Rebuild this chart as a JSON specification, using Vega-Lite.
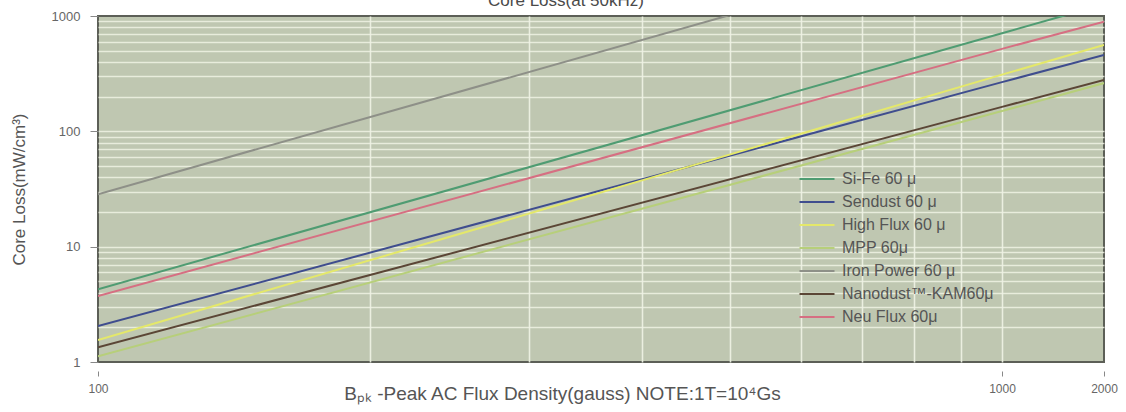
{
  "$schema": "https://vega.github.io/schema/vega-lite/v6.json",
  "autosize": {"type": "none"},
  "padding": {"left": 98, "top": 16, "right": 22, "bottom": 50},
  "width": 1006,
  "height": 346,
  "background": "white",
  "title": {"text": "Core Loss(at 50kHz)", "fontSize": 17, "font": "Liberation Sans", "fontWeight": "normal", "color": "#4a4a4a", "dx": -35, "dy": 19, "offset": 6, "frame": "group", "baseline": "alphabetic"},
  "config": {
    "view": {"fill": "#bfc7b1", "stroke": "#5c5f57", "strokeWidth": 2},
    "font": "Liberation Sans"
  },
  "data": {"values": [
    {"B": 100, "loss": 4.27, "material": "Si-Fe 60 μ"},
    {"B": 1000, "loss": 709, "material": "Si-Fe 60 μ"},
    {"B": 2000, "loss": 1263, "material": "Si-Fe 60 μ"},
    {"B": 100, "loss": 2.05, "material": "Sendust 60 μ"},
    {"B": 1000, "loss": 267, "material": "Sendust 60 μ"},
    {"B": 2000, "loss": 460, "material": "Sendust 60 μ"},
    {"B": 100, "loss": 1.55, "material": "High Flux 60 μ"},
    {"B": 1000, "loss": 310, "material": "High Flux 60 μ"},
    {"B": 2000, "loss": 561, "material": "High Flux 60 μ"},
    {"B": 100, "loss": 1.12, "material": "MPP 60μ"},
    {"B": 1000, "loss": 150, "material": "MPP 60μ"},
    {"B": 2000, "loss": 262, "material": "MPP 60μ"},
    {"B": 100, "loss": 28.5, "material": "Iron Power 60 μ"},
    {"B": 1000, "loss": 4757, "material": "Iron Power 60 μ"},
    {"B": 2000, "loss": 8490, "material": "Iron Power 60 μ"},
    {"B": 100, "loss": 1.34, "material": "Nanodust™-KAM60μ"},
    {"B": 1000, "loss": 163, "material": "Nanodust™-KAM60μ"},
    {"B": 2000, "loss": 279, "material": "Nanodust™-KAM60μ"},
    {"B": 100, "loss": 3.74, "material": "Neu Flux 60μ"},
    {"B": 1000, "loss": 519, "material": "Neu Flux 60μ"},
    {"B": 2000, "loss": 894, "material": "Neu Flux 60μ"}
  ]},
  "layer": [
    {
      "mark": {"type": "line", "strokeOpacity": 0, "clip": true},
      "encoding": {
        "x": {"field": "B", "type": "quantitative",
          "scale": {"type": "log", "domain": [100, 1000, 2000], "range": [0, 904, 1006], "nice": false},
          "axis": {"orient": "top", "values": [200, 300, 400, 500, 600, 700, 800, 900, 1000], "grid": true, "gridColor": "#f0f3e6", "gridWidth": 1.6, "gridOpacity": 0.9, "labels": false, "ticks": false, "domain": false, "title": null}},
        "y": {"field": "loss", "type": "quantitative",
          "scale": {"type": "log", "domain": [1, 1000], "nice": false},
          "axis": {"orient": "right", "values": [2, 3, 4, 5, 6, 7, 8, 9, 10, 20, 30, 40, 50, 60, 70, 80, 90, 100, 200, 300, 400, 500, 600, 700, 800, 900], "grid": true, "gridColor": "#eef2e4", "gridWidth": 1.5, "gridOpacity": 0.85, "labels": false, "ticks": false, "domain": false, "title": null}},
        "detail": {"field": "material"}
      }
    },
    {
      "mark": {"type": "line", "strokeWidth": 2, "clip": true},
      "encoding": {
        "x": {"field": "B", "type": "quantitative",
          "scale": {"type": "log", "domain": [100, 1000, 2000], "range": [0, 904, 1006], "nice": false},
          "axis": {"orient": "bottom", "values": [100, 1000, 2000], "format": "d", "grid": false, "domain": false, "offset": 9, "tickSize": 5, "tickColor": "#888", "labelPadding": 7, "labelFlush": false, "labelFontSize": 12, "labelColor": "#666", "labelFont": "Liberation Sans",
            "title": "Bₚₖ -Peak AC Flux Density(gauss)  NOTE:1T=10⁴Gs", "titleFontSize": 19, "titleFontWeight": "normal", "titleColor": "#555", "titleFont": "Liberation Sans", "titleX": 464, "titleY": 28, "titleBaseline": "alphabetic", "titleAlign": "center"}},
        "y": {"field": "loss", "type": "quantitative",
          "scale": {"type": "log", "domain": [1, 1000], "nice": false},
          "axis": {"orient": "left", "values": [1, 10, 100, 1000], "format": "d", "grid": false, "domain": false, "tickSize": 8, "tickColor": "#888", "labelPadding": 10, "labelFlush": false, "labelFontSize": 13, "labelColor": "#666", "labelFont": "Liberation Sans",
            "title": "Core Loss(mW/cm³)", "titleFontSize": 17, "titleFontWeight": "normal", "titleColor": "#555", "titleFont": "Liberation Sans", "titlePadding": 23}},
        "color": {"field": "material", "type": "nominal",
          "scale": {"domain": ["Si-Fe 60 μ", "Sendust 60 μ", "High Flux 60 μ", "MPP 60μ", "Iron Power 60 μ", "Nanodust™-KAM60μ", "Neu Flux 60μ"],
                    "range": ["#4f9c72", "#3f4d8e", "#e4e86a", "#b7cf7a", "#8e9088", "#5b4636", "#d66f82"]},
          "legend": {"orient": "none", "legendX": 708, "legendY": 152, "title": null, "symbolType": "M-1.75,0H1.75", "symbolSize": 400, "symbolStrokeWidth": 2, "labelFontSize": 16, "labelColor": "#555", "labelFont": "Liberation Sans", "rowPadding": 4, "labelOffset": 14, "padding": 0}}
      }
    }
  ],
  "resolve": {"axis": {"x": "independent", "y": "independent"}}
}
